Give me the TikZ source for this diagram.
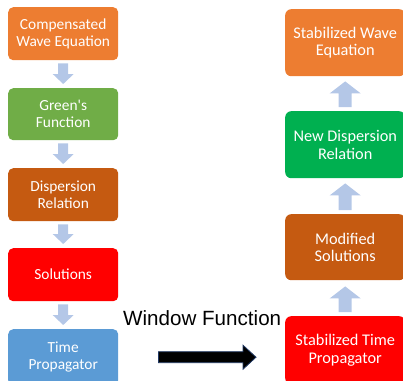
\documentclass[tikz,border=0pt]{standalone}
\usepackage{fontspec}
\setmainfont{Carlito}
\newfontfamily\arialf{Liberation Sans}
\usetikzlibrary{calc}
\definecolor{cOrange}{HTML}{ED7D31}
\definecolor{cGreen}{HTML}{70AD47}
\definecolor{cBrown}{HTML}{C55A11}
\definecolor{cRed}{HTML}{FF0000}
\definecolor{cBlue}{HTML}{5B9BD5}
\definecolor{cGreenB}{HTML}{00B050}
\definecolor{cArrow}{HTML}{B4C7E7}
\definecolor{cNavy}{HTML}{203864}
% #1 from, #2 to, #3 start gap, #4 end gap, #5 half shaft, #6 half head, #7 head length, #8 style
\newcommand\blkarrow[8]{%
  \coordinate (bS) at ($(#1)!#3!(#2)$);
  \coordinate (bE) at ($(#2)!#4!(#1)$);
  \coordinate (bH) at ($(bE)!#7!(bS)$);
  \filldraw[#8] ($(bS)!#5!90:(bE)$) -- ($(bH)!#5!90:(bE)$) -- ($(bH)!#6!90:(bE)$) -- (bE)
     -- ($(bH)!#6!-90:(bE)$) -- ($(bH)!#5!-90:(bE)$) -- ($(bS)!#5!-90:(bE)$) -- cycle;
}
\tikzset{
  lbox/.style={anchor=north west, rounded corners=5pt, minimum width=110pt, text=white,
     align=center, inner sep=0pt, font=\fontsize{15.4}{16.8}\selectfont},
  rbox/.style={anchor=north west, rounded corners=6pt, minimum width=120pt, text=white,
     align=center, inner sep=0pt, font=\fontsize{16.3}{17.5}\selectfont},
  upar/.style={fill=cArrow, draw=none},
}
\begin{document}
\begin{tikzpicture}[x=1pt, y=-1pt]
\useasboundingbox (0,0) rectangle (403,380);
\clip (0,0) rectangle (403,380);
% left column
\node[lbox, fill=cOrange, minimum height=53pt] (b1) at (8,7) {Compensated\\Wave Equation};
\node[lbox, fill=cGreen,  minimum height=52pt] (b2) at (8,88) {Green\textquotesingle s\\Function};
\node[lbox, fill=cBrown,  minimum height=53pt] (b3) at (8,168) {Dispersion\\Relation};
\node[lbox, fill=cRed,    minimum height=53pt] (b4) at (8,248) {Solutions};
\node[lbox, fill=cBlue,   minimum height=56pt] (b5) at (8,329) {Time\\Propagator};
% right column
\node[rbox, fill=cOrange, minimum height=67pt] (rA) at (285,9) {Stabilized Wave\\Equation};
\node[rbox, fill=cGreenB, minimum height=67pt] (rB) at (285,111) {New Dispersion\\Relation};
\node[rbox, fill=cBrown,  minimum height=66pt] (rC) at (285,214) {Modified\\Solutions};
\node[rbox, fill=cRed,    minimum height=68pt] (rD) at (285,316) {Stabilized Time\\Propagator};
% label
\node[anchor=base west, inner sep=0pt, font=\arialf\fontsize{20.6}{24}\selectfont] (wf) at (123,325) {Window Function};
% left down arrows
\blkarrow{b1.south}{b2.north}{3pt}{4pt}{5pt}{10.5pt}{10pt}{upar}
\blkarrow{b2.south}{b3.north}{3pt}{4pt}{5pt}{10.5pt}{10pt}{upar}
\blkarrow{b3.south}{b4.north}{3pt}{4pt}{5pt}{10.5pt}{10pt}{upar}
\blkarrow{b4.south}{b5.north}{3pt}{4pt}{5pt}{10.5pt}{10pt}{upar}
% right up arrows
\blkarrow{rB.north}{rA.south}{4pt}{5pt}{6.5pt}{15.5pt}{12pt}{upar}
\blkarrow{rC.north}{rB.south}{4pt}{5pt}{6.5pt}{15.5pt}{12pt}{upar}
\blkarrow{rD.north}{rC.south}{4pt}{6pt}{6.5pt}{15.5pt}{12pt}{upar}
% black arrow
\coordinate (wfEnd) at (rD.west |- b5.east);
\blkarrow{b5.east}{wfEnd}{40pt}{29pt}{5.5pt}{12pt}{13pt}{fill=black, draw=cNavy, line width=0.8pt}
\end{tikzpicture}
\end{document}
